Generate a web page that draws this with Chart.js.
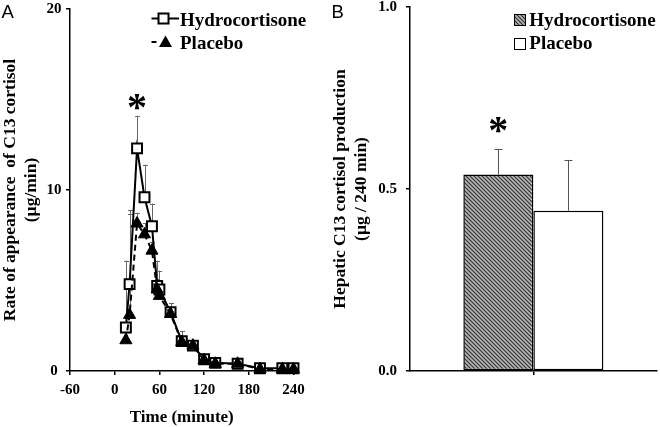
<!DOCTYPE html>
<html><head><meta charset="utf-8">
<script src="https://cdn.jsdelivr.net/npm/chart.js@4/dist/chart.umd.min.js"></script>
<style>
html,body{margin:0;padding:0;background:#fff;}
#wrap{position:relative;width:660px;height:427px;overflow:hidden;}
.cw{position:absolute;top:0;width:330px;height:427px;}
canvas{display:block;}
</style></head><body>
<div id="wrap">
<div class="cw" style="left:0"><canvas id="cA" width="330" height="427"></canvas></div>
<div class="cw" style="left:330px"><canvas id="cB" width="330" height="427"></canvas></div>
</div>
<script>
// ---------- data: panel A ----------
const timeMin        = [15, 20, 30, 40, 50, 57, 60, 75, 90, 105, 120, 135, 165, 195, 225, 240];
const hydroRate      = [2.4, 4.8, 12.3, 9.6, 8.0, 4.7, 4.5, 3.25, 1.65, 1.4, 0.65, 0.45, 0.4, 0.15, 0.15, 0.15];
const hydroRateErr   = [3.7, 4.1, 1.8, 1.8, 1.25, 1.4, 1.05, 0.5, 0.55, 0.3, 0.25, 0.2, 0.2, 0.1, 0.1, 0.1];
const placeboRate    = [1.7, 3.1, 8.15, 7.55, 6.65, 4.5, 4.15, 3.15, 1.6, 1.4, 0.6, 0.4, 0.4, 0.1, 0.1, 0.1];
const placeboRateErr = [1.0, 5.6, 0.6, 0.6, 0.5, 0.6, 0.6, 0.4, 0.3, 0.3, 0.2, 0.2, 0.2, 0.1, 0.1, 0.1];
const xTicksA = [-60, 0, 60, 120, 180, 240];
const yTicksA = [0, 10, 20];
const seriesNames = ['Hydrocortisone', 'Placebo'];
const sigTimeA = 30, sigLevelA = 15.0;

// ---------- data: panel B ----------
const productionCategory   = [''];
const hydroProduction      = [0.54];
const hydroProductionErr   = [0.07];
const placeboProduction    = [0.44];
const placeboProductionErr = [0.14];
const yTicksB = [0, 0.5, 1.0];
const sigLevelB = 0.68;

Chart.defaults.font.family = "'Liberation Serif', 'Times New Roman', serif";
Chart.defaults.color = '#000';

const SERIF = "'Liberation Serif', 'Times New Roman', serif";

function hatchPattern(ctx) {
  const c = document.createElement('canvas'); c.width = 4; c.height = 4;
  const g = c.getContext('2d');
  g.fillStyle = '#b4b4b4'; g.fillRect(0, 0, 4, 4);
  g.strokeStyle = '#303030'; g.lineWidth = 1.1;
  g.beginPath();
  g.moveTo(-1, -1); g.lineTo(5, 5);
  g.moveTo(-1, 3); g.lineTo(1, 5);
  g.moveTo(3, -1); g.lineTo(5, 1);
  g.stroke();
  return ctx.createPattern(c, 'repeat');
}

const errorBars = {
  id: 'errorBars',
  beforeDatasetsDraw(chart, args, opts) {
    const ctx = chart.ctx;
    chart.data.datasets.forEach((ds, i) => {
      if (!ds.errors) return;
      const meta = chart.getDatasetMeta(i);
      const ys = chart.scales[meta.yAxisID];
      ctx.save();
      ctx.strokeStyle = opts.color; ctx.lineWidth = opts.width;
      meta.data.forEach((el, j) => {
        const d = ds.data[j];
        const v = (typeof d === 'object') ? d.y : d;
        const top = ys.getPixelForValue(v + ds.errors[j]);
        const x = Math.round(el.x) + 0.5;
        ctx.beginPath();
        ctx.moveTo(x, el.y); ctx.lineTo(x, top);
        ctx.moveTo(x - opts.cap / 2, Math.round(top) + 0.5); ctx.lineTo(x + opts.cap / 2, Math.round(top) + 0.5);
        ctx.stroke();
      });
      ctx.restore();
    });
  }
};

const extras = {
  id: 'extras',
  afterDraw(chart, args, o) {
    const ctx = chart.ctx;
    ctx.save();
    // panel letter
    ctx.fillStyle = '#000';
    ctx.font = "18.5px 'Liberation Sans', Arial, sans-serif";
    ctx.textAlign = 'left'; ctx.textBaseline = 'alphabetic';
    ctx.fillText(o.letter, 1.5, 18.3);
    // significance asterisk
    let sx, sy;
    if (o.sig.mode === 'xy') {
      sx = chart.scales.x.getPixelForValue(o.sig.x);
    } else {
      sx = chart.getDatasetMeta(0).data[0].x;
    }
    sy = chart.scales.y.getPixelForValue(o.sig.y);
    ctx.font = "bold 40px " + SERIF;
    ctx.textAlign = 'center'; ctx.textBaseline = 'alphabetic';
    ctx.fillText('*', sx, sy + 20);
    // legend
    ctx.font = "bold 19px " + SERIF;
    ctx.textAlign = 'left';
    o.legend.forEach(item => {
      item.draw(ctx);
      ctx.fillStyle = '#000';
      ctx.fillText(item.text, item.tx, item.ty);
    });
    ctx.restore();
  }
};

// ---------- Panel A ----------
const ctxA = document.getElementById('cA').getContext('2d');
const tickFont = {size: 15, weight: 'bold'};
new Chart(ctxA, {
  type: 'line',
  data: {
    datasets: [
      {
        label: seriesNames[1],
        data: timeMin.map((t, i) => ({x: t, y: placeboRate[i]})),
        errors: placeboRateErr,
        borderColor: '#000', borderWidth: 2, borderDash: [6, 4],
        pointStyle: 'triangle', pointRadius: 7, pointBackgroundColor: '#000',
        pointBorderColor: '#000', pointBorderWidth: 1,
        tension: 0, clip: false, order: 0
      },
      {
        label: seriesNames[0],
        data: timeMin.map((t, i) => ({x: t, y: hydroRate[i]})),
        errors: hydroRateErr,
        borderColor: '#000', borderWidth: 2,
        pointStyle: 'rect', pointRadius: 7, pointBackgroundColor: '#fff',
        pointBorderColor: '#000', pointBorderWidth: 2,
        tension: 0, clip: false, order: 1
      }
    ]
  },
  options: {
    responsive: false, animation: false, devicePixelRatio: 1,
    layout: {padding: {left: 0, top: 7, right: 36.5, bottom: 0}},
    events: [],
    plugins: {
      legend: {display: false}, tooltip: {enabled: false},
      errorBars: {color: '#666', width: 1, cap: 5},
      extras: {
        letter: 'A',
        sig: {mode: 'xy', x: sigTimeA, y: sigLevelA},
        legend: [
          {text: seriesNames[0], tx: 180, ty: 25.5, draw(ctx) {
            ctx.strokeStyle = '#000'; ctx.lineWidth = 2; ctx.setLineDash([]);
            ctx.beginPath(); ctx.moveTo(151.5, 18.5); ctx.lineTo(179, 18.5); ctx.stroke();
            ctx.fillStyle = '#fff'; ctx.fillRect(158.5, 13.5, 10, 10);
            ctx.strokeRect(158.5, 13.5, 10, 10);
          }},
          {text: seriesNames[1], tx: 180, ty: 49, draw(ctx) {
            ctx.strokeStyle = '#000'; ctx.lineWidth = 2; ctx.setLineDash([]);
            ctx.beginPath(); ctx.moveTo(151.5, 42); ctx.lineTo(156.5, 42); ctx.stroke();
            ctx.fillStyle = '#000';
            ctx.beginPath(); ctx.moveTo(165.5, 35.5); ctx.lineTo(172, 47); ctx.lineTo(159, 47); ctx.closePath(); ctx.fill();
          }}
        ]
      }
    },
    scales: {
      x: {
        type: 'linear', min: -60, max: 240,
        afterBuildTicks: s => { s.ticks = xTicksA.map(v => ({value: v})); },
        afterFit: s => { s.height = 56; s.paddingLeft = 0; s.paddingRight = 0; },
        grid: {drawOnChartArea: false, drawTicks: true, tickLength: 4, color: '#000', lineWidth: 1.5},
        border: {display: true, color: '#000', width: 1.5},
        ticks: {font: tickFont, color: '#000', padding: 6, maxRotation: 0, autoSkip: false},
        title: {display: true, text: 'Time (minute)', color: '#000',
                font: {size: 17, weight: 'bold', lineHeight: 18 / 17}, padding: {top: 0, bottom: 0}}
      },
      y: {
        type: 'linear', min: 0, max: 20,
        afterBuildTicks: s => { s.ticks = yTicksA.map(v => ({value: v})); },
        afterFit: s => { s.width = 70; s.paddingTop = 0; s.paddingBottom = 0; },
        grid: {drawOnChartArea: false, drawTicks: true, tickLength: 4, color: '#000', lineWidth: 1.5},
        border: {display: true, color: '#000', width: 1.5},
        ticks: {font: tickFont, color: '#000', padding: 4.5, crossAlign: 'center'},
        title: {display: true, text: ['Rate of appearance  of C13 cortisol', '(µg/min)'], color: '#000',
                font: {size: 17.5, weight: 'bold', lineHeight: 21 / 17.5}, padding: {top: 0, bottom: 0}}
      }
    }
  },
  plugins: [errorBars, extras]
});

// ---------- Panel B ----------
const ctxB = document.getElementById('cB').getContext('2d');
const hatch = hatchPattern(ctxB);
new Chart(ctxB, {
  type: 'bar',
  data: {
    labels: productionCategory,
    datasets: [
      {label: seriesNames[0], data: hydroProduction, errors: hydroProductionErr,
       backgroundColor: hatch, borderColor: '#000', borderWidth: 1.5, borderSkipped: false},
      {label: seriesNames[1], data: placeboProduction, errors: placeboProductionErr,
       backgroundColor: '#fff', borderColor: '#000', borderWidth: 1.5, borderSkipped: false}
    ]
  },
  options: {
    responsive: false, animation: false, devicePixelRatio: 1,
    layout: {padding: {left: 0, top: 7, right: 3.3, bottom: 0}},
    events: [],
    datasets: {bar: {categoryPercentage: 0.5676, barPercentage: 1}},
    plugins: {
      legend: {display: false}, tooltip: {enabled: false},
      errorBars: {color: '#555', width: 1, cap: 8},
      extras: {
        letter: 'B',
        sig: {mode: 'bar', y: sigLevelB},
        legend: [
          {text: seriesNames[0], tx: 199.3, ty: 26, draw(ctx) {
            ctx.fillStyle = hatch; ctx.fillRect(184.5, 14.5, 11, 11);
            ctx.strokeStyle = '#000'; ctx.lineWidth = 1; ctx.setLineDash([]);
            ctx.strokeRect(184.5, 14.5, 11, 11);
          }},
          {text: seriesNames[1], tx: 199.3, ty: 49.3, draw(ctx) {
            ctx.fillStyle = '#fff'; ctx.fillRect(184.5, 38.5, 11, 11);
            ctx.strokeStyle = '#000'; ctx.lineWidth = 1; ctx.setLineDash([]);
            ctx.strokeRect(184.5, 38.5, 11, 11);
          }}
        ]
      }
    },
    scales: {
      x: {
        type: 'category', offset: true,
        afterFit: s => { s.height = 56; s.paddingLeft = 0; s.paddingRight = 0; },
        grid: {offset: false, drawOnChartArea: false, drawTicks: true, tickLength: 4, color: '#000', lineWidth: 1.5},
        border: {display: true, color: '#000', width: 1.5},
        ticks: {font: tickFont, color: '#000'}
      },
      y: {
        type: 'linear', min: 0, max: 1,
        afterBuildTicks: s => { s.ticks = yTicksB.map(v => ({value: v})); },
        afterFit: s => { s.width = 80; s.paddingTop = 0; s.paddingBottom = 0; },
        grid: {drawOnChartArea: false, drawTicks: true, tickLength: 4, color: '#000', lineWidth: 1.5},
        border: {display: true, color: '#000', width: 1.5},
        ticks: {font: tickFont, color: '#000', padding: 9, callback: v => Number(v).toFixed(1)},
        title: {display: true, text: ['Hepatic C13 cortisol production', '(µg / 240 min)'], color: '#000',
                font: {size: 17.5, weight: 'bold', lineHeight: 21 / 17.5}, padding: {top: 0, bottom: 0}}
      }
    }
  },
  plugins: [errorBars, extras]
});
</script>
</body></html>
